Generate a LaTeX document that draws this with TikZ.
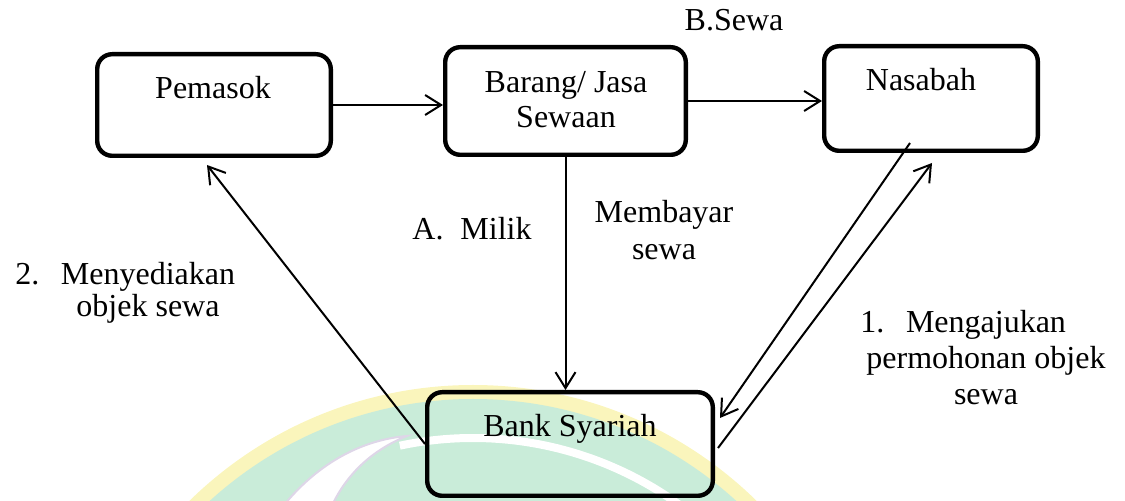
\documentclass[tikz,border=0pt]{standalone}
\usepackage{fontspec}
\setmainfont{Liberation Serif}
\usetikzlibrary{arrows.meta,calc}
\definecolor{wmgreen}{RGB}{201,236,217}
\definecolor{wmyellow}{RGB}{250,245,188}
\definecolor{wmlav}{RGB}{222,214,232}
\begin{document}
\begin{tikzpicture}[x=0.5pt,y=-0.5pt,
  box/.style={draw, line width=2.2pt, rounded corners=7.5pt, inner sep=0pt},
  lbl/.style={font=\fontsize{16}{18}\selectfont, inner sep=0pt, anchor=base, align=center},
  conn/.style={line width=1pt, -{Straight Barb[length=8pt,width=10pt,line width=1pt]}}]
\useasboundingbox (0,0) rectangle (1125,501);
% watermark
\begin{scope}
\clip (0,0) rectangle (1125,501);
\fill[wmyellow] (473,790) circle[radius=405];
\fill[wmgreen] (473,790) circle[radius=391];
\draw[white, line width=4pt] ([shift={(258:352)}]473,790) arc[start angle=258, end angle=310, radius=352];
\filldraw[fill=white, draw=wmlav, line width=1pt] (280,510) .. controls (315,465) and (360,440) .. (407,436)
  .. controls (372,450) and (345,475) .. (330,510) -- cycle;
\end{scope}
% boxes
\node[box, minimum width=116.8pt, minimum height=50.8pt] (pemasok) at (214,105) {};
\node[box, minimum width=120.3pt, minimum height=53.8pt] (barang) at (565.5,101) {};
\node[box, minimum width=106.8pt, minimum height=52.3pt] (nasabah) at (931,98.5) {};
\node[box, minimum width=142.8pt, minimum height=51.8pt] (bank) at (570,444) {};
% box texts (base = baseline of last line)
\node[lbl] (pemT) at (213,99) {Pemasok};
\node[lbl, font=\fontsize{16}{17.5}\selectfont] (barT) at (566,128) {Barang/ Jasa\\Sewaan};
\node[lbl] (nasT) at (921,91) {Nasabah};
\node[lbl] (bankT) at (570,437) {Bank Syariah};
% labels
\node[lbl] (sewaB) at (734,31) {B.Sewa};
\node[lbl, anchor=base west] (milik) at (412,240) {A.\hspace{8.5pt}Milik};
\node[lbl, font=\fontsize{16}{18.5}\selectfont] (bayar) at (664,260) {Membayar\\sewa};
\node[lbl, anchor=base west] (num2) at (15,285) {2.};
\node[lbl, font=\fontsize{16}{16}\selectfont] (sedia) at (148,317) {Menyediakan\\objek sewa};
\node[lbl, anchor=base west] (num1) at (860,333) {1.};
\node[lbl] (aju) at (986,405) {Mengajukan\\permohonan objek\\sewa};
% connectors
\coordinate (pemTip) at (207,165);
\coordinate (nasOut) at (910,143);
\coordinate (bankIn) at (720,418);
\coordinate (bankOut) at (718,448);
\coordinate (nasIn) at (932,163);
\draw[conn] (pemasok.east) -- (barang.west |- pemasok.east);
\draw[conn] (barang.east) -- (nasabah.west |- barang.east);
\draw[conn] (barang.south) -- (barang.south |- bank.north);
\draw[conn] (bank.west) -- (pemTip);
\draw[conn] (nasOut) -- (bankIn);
\draw[conn] (bankOut) -- (nasIn);
\end{tikzpicture}
\end{document}
